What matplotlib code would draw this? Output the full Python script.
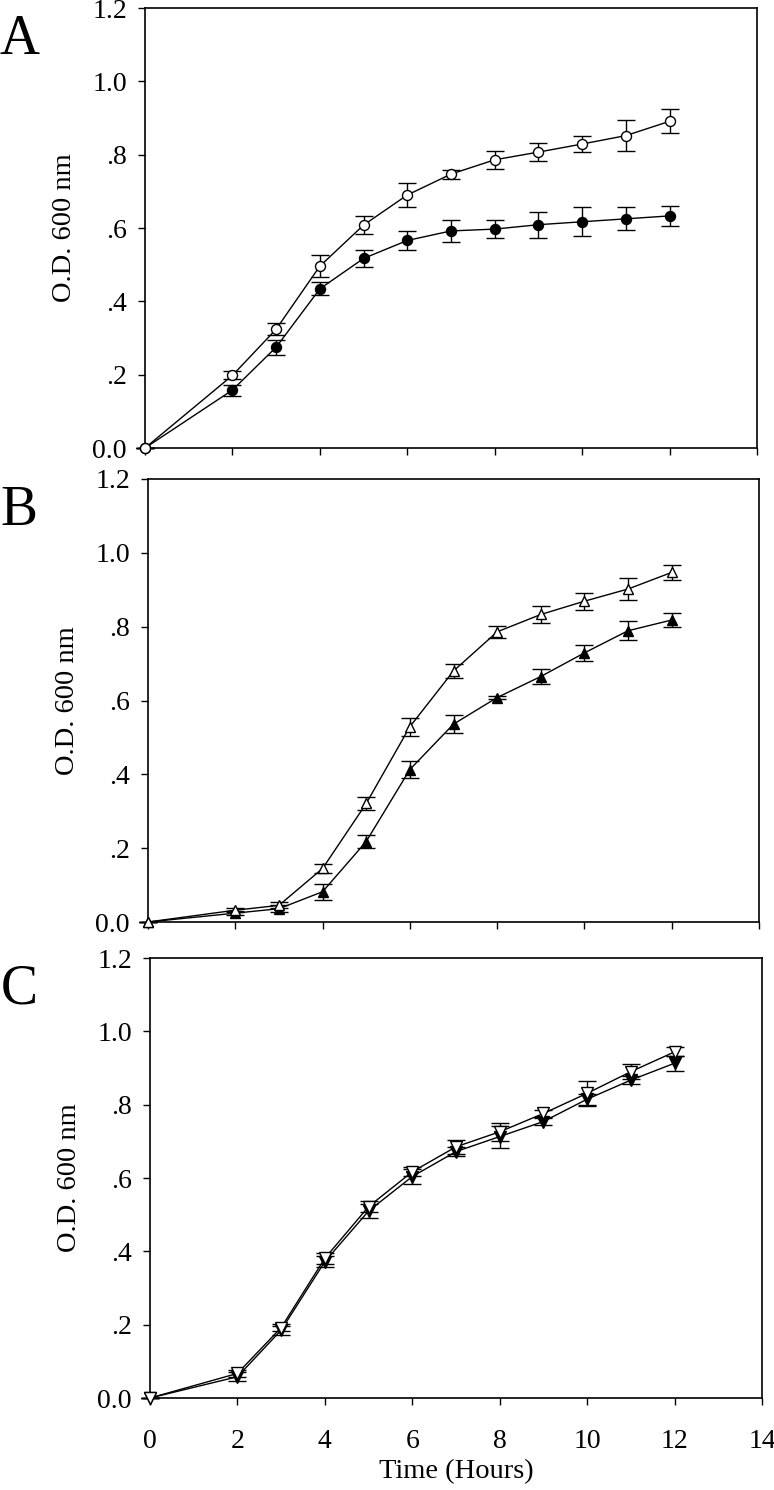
import numpy as np
import matplotlib
matplotlib.use("Agg")
import matplotlib.pyplot as plt

plt.rcParams["font.family"] = ["Liberation Serif", "DejaVu Serif"]

# time points (hours)
t = [0, 2, 3, 4, 5, 6, 7, 8, 9, 10, 11, 12]

# Panel A: circles
a_open = [0.0, 0.198, 0.324, 0.496, 0.608, 0.690, 0.747, 0.786, 0.807, 0.829, 0.852, 0.891]
a_open_err = [0.0, 0.011, 0.016, 0.030, 0.024, 0.033, 0.012, 0.024, 0.025, 0.021, 0.042, 0.033]
a_fill = [0.0, 0.158, 0.275, 0.434, 0.517, 0.566, 0.592, 0.597, 0.609, 0.617, 0.625, 0.633]
a_fill_err = [0.0, 0.015, 0.020, 0.018, 0.024, 0.025, 0.031, 0.024, 0.035, 0.040, 0.031, 0.027]

# Panel B: up triangles
b_open = [0.0, 0.032, 0.045, 0.145, 0.321, 0.529, 0.680, 0.786, 0.833, 0.869, 0.902, 0.947]
b_open_err = [0.0, 0.006, 0.008, 0.012, 0.018, 0.024, 0.019, 0.017, 0.022, 0.023, 0.030, 0.021]
b_fill = [0.0, 0.024, 0.036, 0.082, 0.218, 0.413, 0.536, 0.608, 0.665, 0.729, 0.789, 0.818]
b_fill_err = [0.0, 0.006, 0.010, 0.022, 0.017, 0.022, 0.025, 0.005, 0.020, 0.021, 0.025, 0.019]

# Panel C: down triangles
c_open = [0.0, 0.067, 0.192, 0.381, 0.522, 0.617, 0.685, 0.726, 0.776, 0.831, 0.890, 0.944]
c_open_err = [0.0, 0.010, 0.010, 0.015, 0.015, 0.012, 0.020, 0.025, 0.010, 0.034, 0.020, 0.012]
c_fill = [0.0, 0.058, 0.185, 0.372, 0.510, 0.604, 0.672, 0.713, 0.754, 0.815, 0.867, 0.913]
c_fill_err = [0.0, 0.012, 0.012, 0.015, 0.020, 0.020, 0.012, 0.030, 0.010, 0.015, 0.010, 0.020]

yticks = [0.0, 0.2, 0.4, 0.6, 0.8, 1.0, 1.2]
ytick_labels = ["0.0", ".2", ".4", ".6", ".8", "1.0", "1.2"]
xticks = [0, 2, 4, 6, 8, 10, 12, 14]

W, H = 774, 1490
fig = plt.figure(figsize=(W / 100, H / 100), dpi=100)


def px_axes(left, right, top, bottom):
    return fig.add_axes([left / W, (H - bottom) / H, (right - left) / W, (bottom - top) / H])


panels = [
    ("A", (145, 757, 8, 448), "o", (a_open, a_open_err), (a_fill, a_fill_err), 7.2),
    ("B", (148, 759, 479, 922), "^", (b_open, b_open_err), (b_fill, b_fill_err), 7.8),
    ("C", (150, 762, 958, 1398), "v", (c_open, c_open_err), (c_fill, c_fill_err), 8.0),
]

for i, (letter, box, mk, (yo, eo), (yf, ef), ms) in enumerate(panels):
    ax = px_axes(*box)
    for y, e, face in [(yf, ef, "black"), (yo, eo, "white")]:
        ax.errorbar(t, y, yerr=e, fmt="-", color="black", lw=1.0,
                    elinewidth=1.0, capsize=6.5, capthick=1.0,
                    marker=mk, ms=ms, mfc=face, mec="black", mew=1.0,
                    clip_on=False, zorder=3)
    ax.set_xlim(0, 14)
    ax.set_ylim(0, 1.2)
    ax.set_yticks(yticks)
    ax.set_yticklabels(ytick_labels)
    ax.set_xticks(xticks)
    ax.tick_params(axis="y", direction="out", length=5, width=1.0,
                   labelsize=20, pad=8)
    if i < 2:
        ax.tick_params(axis="x", direction="out", length=5, width=1.0,
                       labelbottom=False)
    else:
        ax.tick_params(axis="x", direction="out", length=5, width=1.0,
                       labelsize=20, pad=17)
        ax.set_xlabel("Time (Hours)", fontsize=20.5, labelpad=4)
    ax.set_ylabel("O.D. 600 nm", fontsize=20.5, labelpad=11)
    for sp in ax.spines.values():
        sp.set_linewidth(1.2)
    top = box[2]
    fig.text(19 / W, 1 - (top + 32) / H, letter, fontsize=40,
             ha="center", va="center")

fig.savefig("out.png", dpi=100)
